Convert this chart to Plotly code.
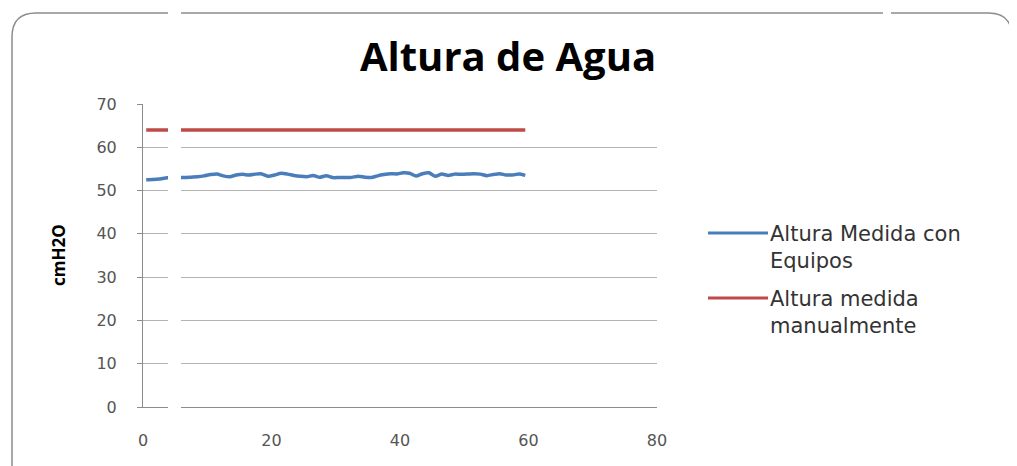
import plotly.graph_objects as go

# ---- data ----
title_text = "Altura de Agua"
y_title = "cmH2O"
series_names = ["Altura Medida con<br>Equipos", "Altura medida<br>manualmente"]
x_vals = [i + 0.5 for i in range(60)]
blue_vals = [52.5, 52.55, 52.65, 52.9, 53.05, 53.0, 53.0, 53.1, 53.2, 53.4,
             53.7, 53.85, 53.4, 53.2, 53.6, 53.75, 53.6, 53.8, 53.85, 53.3,
             53.6, 54.0, 53.8, 53.5, 53.3, 53.2, 53.5, 53.05, 53.45, 53.0,
             53.0, 53.0, 53.05, 53.3, 53.1, 53.0, 53.4, 53.7, 53.9, 53.85,
             54.1, 54.0, 53.35, 53.9, 54.1, 53.3, 53.8, 53.5, 53.8, 53.75,
             53.8, 53.9, 53.8, 53.45, 53.7, 53.9, 53.6, 53.6, 53.8, 53.5]
red_vals = [64.0] * 60
x_ticks = [0, 20, 40, 60, 80]
y_ticks = [0, 10, 20, 30, 40, 50, 60, 70]

BLUE = "#4A7EBB"
RED = "#BE4B48"

W, H = 1017, 466
OFF = 8  # page body margin
# plot area in reference (page) pixel coordinates
L, R, T, B = 143, 657, 104, 407
pw, ph = R - L, B - T


def px(xp):
    return (xp - L) / pw


def py(yp):
    return (B - yp) / ph


fig = go.Figure()
fig.add_trace(go.Scatter(x=x_vals, y=blue_vals, mode="lines",
                         line=dict(color=BLUE, width=3.5, shape="spline", smoothing=0.6),
                         showlegend=False))
fig.add_trace(go.Scatter(x=x_vals, y=red_vals, mode="lines",
                         line=dict(color=RED, width=3.5),
                         showlegend=False))

shapes = []
# chart border (rounded)
lx, ty, rx_, by = px(12), py(13), px(1012), py(480)
cx, cy = 24 / pw, 24 / ph
path = (f"M {lx},{by} L {lx},{ty - cy} Q {lx},{ty} {lx + cx},{ty} "
        f"L {rx_ - cx},{ty} Q {rx_},{ty} {rx_},{ty - cy} L {rx_},{by}")
shapes.append(dict(type="path", xref="paper", yref="paper", path=path,
                   line=dict(color="#8c8c8c", width=1.5), layer="above"))
# manual legend lines
shapes.append(dict(type="line", xref="paper", yref="paper",
                   x0=px(708), x1=px(768), y0=py(233), y1=py(233),
                   line=dict(color=BLUE, width=3)))
shapes.append(dict(type="line", xref="paper", yref="paper",
                   x0=px(708), x1=px(768), y0=py(298), y1=py(298),
                   line=dict(color=RED, width=3)))
# scan artifact white bands
shapes.append(dict(type="rect", xref="paper", yref="paper",
                   x0=px(168), x1=px(181), y0=py(412), y1=py(0),
                   fillcolor="white", line=dict(width=0), layer="above"))
shapes.append(dict(type="rect", xref="paper", yref="paper",
                   x0=px(883), x1=px(891), y0=py(30), y1=py(0),
                   fillcolor="white", line=dict(width=0), layer="above"))

annotations = [
    dict(text=f"<b>{y_title}</b>", xref="paper", yref="paper",
         x=px(58), y=py(255), xanchor="center", yanchor="middle",
         textangle=-90, showarrow=False,
         font=dict(family="Open Sans", size=17, color="#000000")),
    dict(text=series_names[0], xref="paper", yref="paper",
         x=px(768), y=py(220), xanchor="left", yanchor="top", align="left",
         showarrow=False, font=dict(family="DejaVu Sans", size=21, color="#333333")),
    dict(text=series_names[1], xref="paper", yref="paper",
         x=px(768), y=py(285), xanchor="left", yanchor="top", align="left",
         showarrow=False, font=dict(family="DejaVu Sans", size=21, color="#333333")),
]

fig.update_layout(
    width=W, height=H,
    margin=dict(l=L - OFF, r=W - R + OFF, t=T - OFF, b=H - B + OFF),
    paper_bgcolor="white", plot_bgcolor="white",
    title=dict(text=f"<b>{title_text}</b>", xref="paper", x=px(508), xanchor="center",
               yref="container", y=1 - (57 - OFF) / H, yanchor="middle",
               font=dict(family="Open Sans", size=40, color="#000000")),
    shapes=shapes, annotations=annotations,
    showlegend=False,
)
fig.update_xaxes(range=[0, 80], tickvals=x_ticks, showgrid=False, zeroline=False,
                 showline=True, linecolor="#8c8c8c", linewidth=1, ticks="",
                 ticklabelstandoff=19,
                 tickfont=dict(family="DejaVu Sans", size=16, color="#555555"))
fig.update_yaxes(range=[0, 70], tickvals=y_ticks, showgrid=True, gridcolor="#b3b3b3",
                 gridwidth=1, zeroline=False, showline=True, linecolor="#8c8c8c",
                 linewidth=1, ticks="outside", ticklen=5, tickcolor="#8c8c8c",
                 ticklabelstandoff=17,
                 tickfont=dict(family="DejaVu Sans", size=16, color="#555555"))

fig.write_html("out.html")
